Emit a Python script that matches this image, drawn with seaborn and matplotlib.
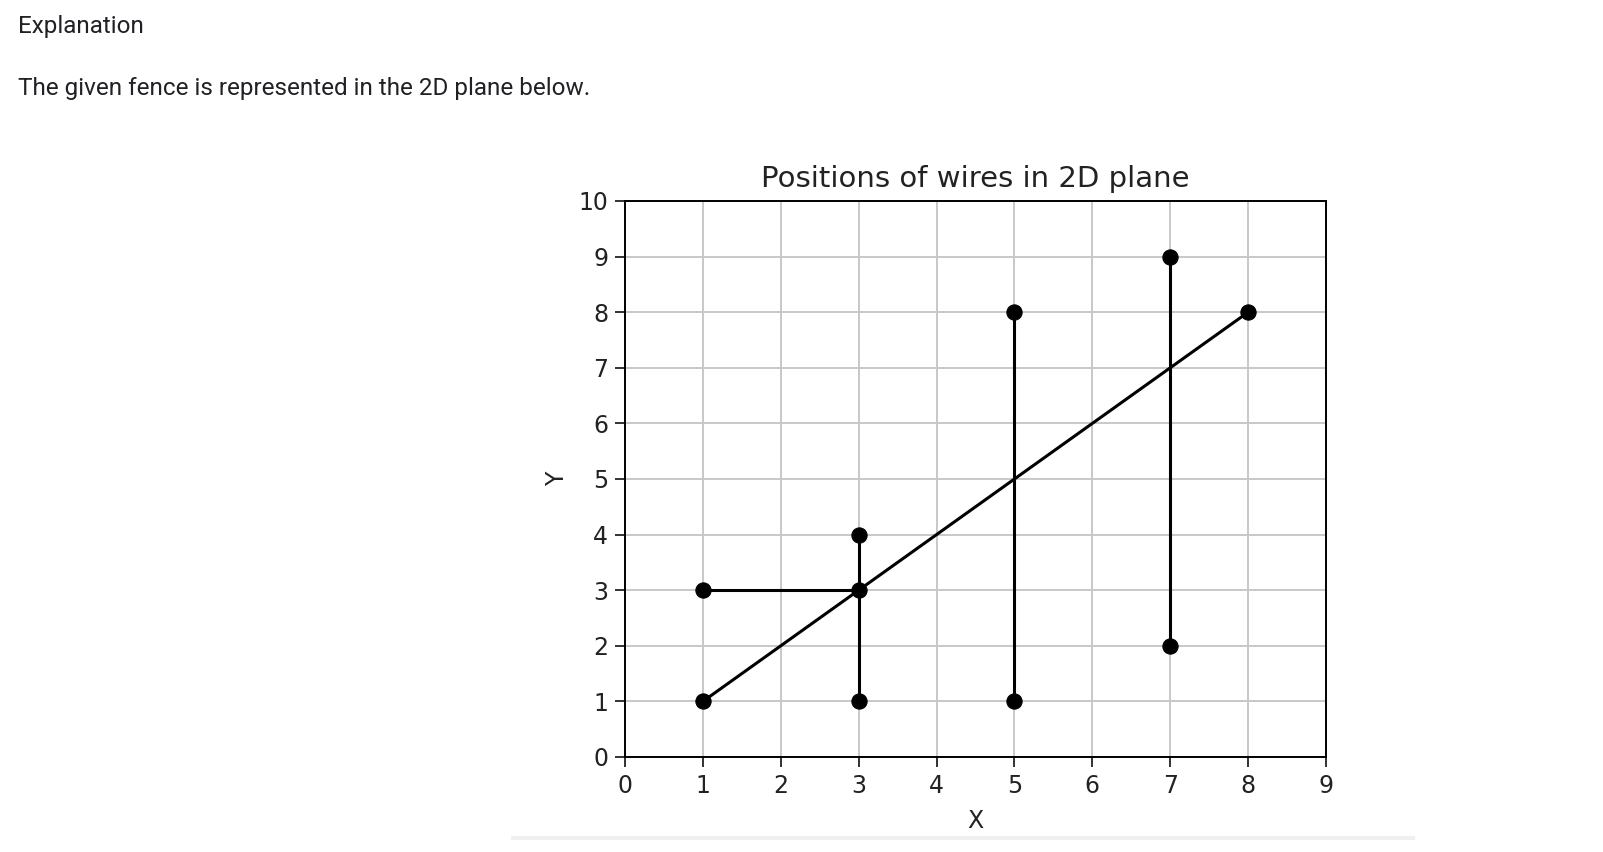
import pandas as pd
import seaborn as sns
import matplotlib.pyplot as plt

# 울타리 전선 좌표 (각 전선의 두 끝점)
wire_ids = [0, 0, 1, 1, 2, 2, 3, 3, 4, 4]
x_vals = [1, 8, 1, 3, 3, 3, 5, 5, 7, 7]
y_vals = [1, 8, 3, 3, 1, 4, 1, 8, 2, 9]
x_ticks = list(range(0, 10))
y_ticks = list(range(0, 11))

wires_df = pd.DataFrame({'wire': wire_ids, 'X': x_vals, 'Y': y_vals})

W, H = 1603, 852
fig = plt.figure(figsize=(W / 100, H / 100), dpi=100)

# 상단 설명 텍스트
fig.text(18 / W, 1 - 26 / H, "Explanation", family='Roboto', fontsize=17.5,
         va='center', ha='left', color='#202124')
fig.text(18 / W, 1 - 88 / H, "The given fence is represented in the 2D plane below.",
         family='Roboto', fontsize=17.5, va='center', ha='left', color='#202124')

# 차트 영역
left, right, top, bottom = 625, 1326, 201, 757
ax = fig.add_axes([left / W, 1 - bottom / H, (right - left) / W, (bottom - top) / H])
ax.set_axisbelow(True)
ax.grid(True, color='#c8c8c8', linewidth=1.4)

sns.lineplot(data=wires_df, x='X', y='Y', units='wire', estimator=None, sort=False,
             color='black', linewidth=2.2, marker='o', markersize=11,
             markeredgecolor='black', ax=ax)

ax.set_xlim(0, 9)
ax.set_ylim(0, 10)
ax.set_xticks(x_ticks)
ax.set_yticks(y_ticks)
ax.tick_params(labelsize=17, length=7, width=1.3, pad=5, colors='#222222')
for s in ax.spines.values():
    s.set_linewidth(1.4)
ax.set_title("Positions of wires in 2D plane", fontsize=21, pad=10, color='#222222')
ax.set_xlabel("X", fontsize=17, labelpad=8, color='#222222')
ax.set_ylabel("Y", fontsize=17, labelpad=7, color='#222222')

# 하단 구분선
fig.add_artist(plt.Line2D([513 / W, 1413 / W], [1 - 838 / H, 1 - 838 / H],
                          color='#f0f0f0', linewidth=3))

fig.savefig('out.png', dpi=100)
